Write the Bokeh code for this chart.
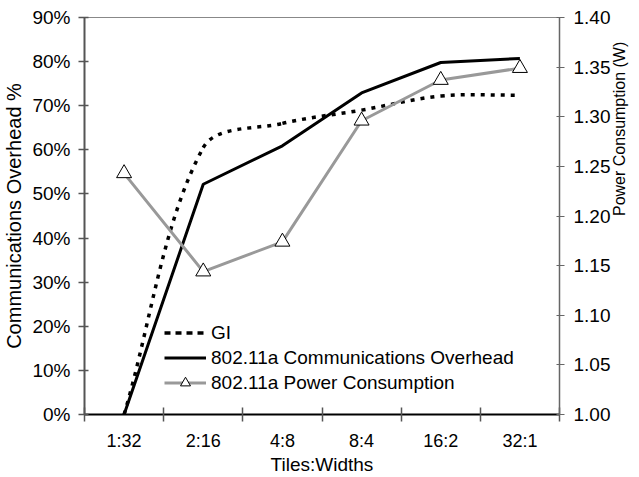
import math
from bokeh.plotting import figure
from bokeh.models import (Range1d, LinearAxis, FixedTicker, PrintfTickFormatter,
                          CustomJSTickFormatter, Legend, LegendItem, ColumnDataSource)
from bokeh.embed import file_html
from bokeh.resources import INLINE

categories = ["1:32", "2:16", "4:8", "8:4", "16:2", "32:1"]
gi = [0.0, 60.5, 66.0, 69.0, 72.2, 72.4]
comm = [0.0, 52.2, 60.9, 72.9, 79.8, 80.7]
power = [1.243, 1.144, 1.174, 1.296, 1.337, 1.349]
left_ticks = [0, 10, 20, 30, 40, 50, 60, 70, 80, 90]
right_ticks = [1.00, 1.05, 1.10, 1.15, 1.20, 1.25, 1.30, 1.35, 1.40]
right_title = "Power Consumption (W)"

FONT = "Liberation Sans"
W, H = 639, 477
BL, BR, BT, BB = 83, 76, 17, 62
xs = [i + 0.5 for i in range(len(categories))]

p = figure(width=W, height=H, output_backend="svg", toolbar_location=None,
           x_range=Range1d(0, len(categories)), y_range=Range1d(0, 90),
           x_axis_location=None, y_axis_location=None,
           min_border_left=BL, min_border_right=BR, min_border_top=BT, min_border_bottom=BB)
p.xgrid.visible = False
p.ygrid.visible = False
p.outline_line_color = "#888888"
p.outline_line_width = 1
p.extra_y_ranges = {"power": Range1d(1.0, 1.4)}

# bottom axis
xaxis = LinearAxis(
    ticker=FixedTicker(ticks=xs, minor_ticks=list(range(len(categories) + 1))),
    formatter=CustomJSTickFormatter(args=dict(cats=categories),
                                    code="const i = Math.floor(tick); return (i >= 0 && i < cats.length) ? cats[i] : '';"),
    axis_label="Tiles:Widths")
xaxis.major_tick_in = 0
xaxis.major_tick_out = 0
xaxis.minor_tick_in = 7
xaxis.minor_tick_out = 7
xaxis.minor_tick_line_color = "#555555"
xaxis.minor_tick_line_width = 1.5
xaxis.axis_line_color = "black"
xaxis.axis_line_width = 2
xaxis.major_label_text_font = FONT
xaxis.major_label_text_font_size = "18px"
xaxis.major_label_text_color = "black"
xaxis.major_label_standoff = 9
xaxis.axis_label_text_font = FONT
xaxis.axis_label_text_font_size = "19px"
xaxis.axis_label_text_font_style = "normal"
xaxis.axis_label_text_color = "black"
xaxis.axis_label_standoff = 0
p.add_layout(xaxis, "below")

# left axis
yaxis = LinearAxis(ticker=FixedTicker(ticks=left_ticks),
                   formatter=PrintfTickFormatter(format="%d%%"),
                   axis_label="Communications Overhead %")
yaxis.major_tick_in = 4
yaxis.major_tick_out = 6
yaxis.minor_tick_line_color = None
yaxis.major_tick_line_color = "#555555"
yaxis.major_tick_line_width = 1.5
yaxis.axis_line_color = "#555555"
yaxis.axis_line_width = 2
yaxis.major_label_text_font = FONT
yaxis.major_label_text_font_size = "19px"
yaxis.major_label_text_color = "black"
yaxis.major_label_standoff = 8
yaxis.axis_label_text_font = FONT
yaxis.axis_label_text_font_size = "20px"
yaxis.axis_label_text_font_style = "normal"
yaxis.axis_label_text_color = "black"
yaxis.axis_label_standoff = 4
p.add_layout(yaxis, "left")

# right axis
raxis = LinearAxis(y_range_name="power", ticker=FixedTicker(ticks=right_ticks),
                   formatter=PrintfTickFormatter(format="%.2f"),
                   axis_label=right_title)
raxis.major_tick_in = 3
raxis.major_tick_out = 5
raxis.minor_tick_line_color = None
raxis.major_tick_line_color = "#666666"
raxis.major_tick_line_width = 1.2
raxis.axis_line_color = "#666666"
raxis.axis_line_width = 1.5
raxis.major_label_text_font = FONT
raxis.major_label_text_font_size = "19px"
raxis.major_label_text_color = "black"
raxis.major_label_standoff = 9
raxis.axis_label_text_font = FONT
raxis.axis_label_text_font_size = "16px"
raxis.axis_label_text_font_style = "normal"
raxis.axis_label_text_color = "black"
raxis.axis_label_standoff = 6
raxis.axis_label_orientation = math.pi / 2
p.add_layout(raxis, "right")

# GI smoothed line: Bezier segments with length-weighted (Excel-like) control points,
# computed in screen proportions so the curve shape follows the drawn aspect ratio.
fw = W - BL - BR
fh = H - BT - BB
sx = fw / len(categories)
sy = fh / 90.0
n = len(xs)
def dist(i, j):
    return math.hypot((xs[j] - xs[i]) * sx, (gi[j] - gi[i]) * sy)
cout, cin = [], []
for i in range(n):
    pm = max(i - 1, 0)
    pp = min(i + 1, n - 1)
    tx, ty = xs[pp] - xs[pm], gi[pp] - gi[pm]
    din, dout = dist(pm, i), dist(i, pp)
    tot = din + dout
    fo = dout / tot / 3 if tot else 0
    fi = din / tot / 3 if tot else 0
    cout.append((xs[i] + tx * fo, gi[i] + ty * fo))
    cin.append((xs[i] - tx * fi, gi[i] - ty * fi))
p.bezier(x0=xs[:-1], y0=gi[:-1], x1=xs[1:], y1=gi[1:],
         cx0=[c[0] for c in cout[:-1]], cy0=[c[1] for c in cout[:-1]],
         cx1=[c[0] for c in cin[1:]], cy1=[c[1] for c in cin[1:]],
         line_color="black", line_width=3.5, line_dash="4 6")
gi_leg = p.line(x=[xs[0], xs[0]], y=[gi[0], gi[0]], line_color="black",
                line_width=3.5, line_dash="6 5")

src = ColumnDataSource(dict(x=xs, comm=comm, power=power))
comm_r = p.line("x", "comm", source=src, line_color="black", line_width=3)
pw_line = p.line("x", "power", source=src, y_range_name="power",
                 line_color="#999999", line_width=3)
pw_pts = p.scatter("x", "power", source=src, y_range_name="power", marker="triangle",
                   size=15, fill_color="white", line_color="black", line_width=1)

legend = Legend(items=[LegendItem(label="GI", renderers=[gi_leg]),
                       LegendItem(label="802.11a Communications Overhead", renderers=[comm_r]),
                       LegendItem(label="802.11a Power Consumption", renderers=[pw_line, pw_pts])],
                location=(80, 19), border_line_color=None, background_fill_alpha=0,
                label_text_font=FONT, label_text_font_size="19px", label_text_color="black",
                glyph_width=42, glyph_height=25, label_height=25, spacing=0,
                padding=0, margin=0, label_standoff=5)
p.add_layout(legend)

open("out.html", "w").write(file_html(p, INLINE))
